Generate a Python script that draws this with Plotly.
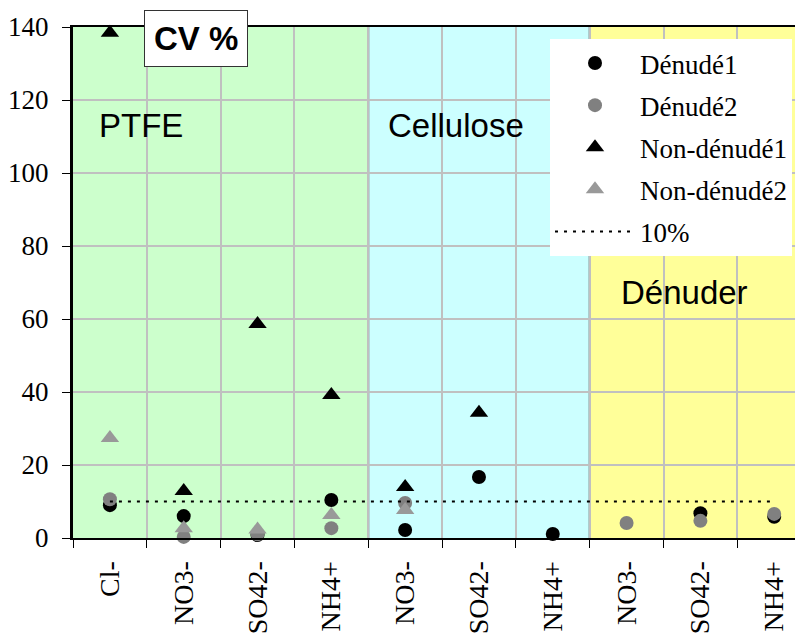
import plotly.graph_objects as go

categories = ["Cl-", "NO3-", "SO42-", "NH4+", "NO3-", "SO42-", "NH4+", "NO3-", "SO42-", "NH4+"]
denude1 = [9.0, 6.0, 0.8, 10.4, 2.2, 16.7, 1.1, None, 6.8, 5.8]
denude2 = [10.6, 0.3, 1.0, 2.7, 9.6, None, None, 4.1, 4.7, 6.6]
non_denude1 = [138.4, 12.9, 58.6, 39.2, 14.0, 34.3, None, None, None, None]
non_denude2 = [27.4, 2.7, 2.3, 6.3, 7.7, None, None, None, None, None]
threshold = [10, 10]
threshold_x = [0, 9]
groups = [("PTFE", -0.5, 3.5, "#CCFFCC"), ("Cellulose", 3.5, 6.5, "#CCFFFF"), ("Dénuder", 6.5, 9.5, "#FFFF99")]
y_ticks = [0, 20, 40, 60, 80, 100, 120, 140]

# page offset of the figure (default body margin)
OFF = 8
PL, PT, PW, PH = 73, 27, 730, 511  # plot area in page pixels

xs = list(range(len(categories)))
fig = go.Figure()

def add(name, y, color, symbol, size, grp):
    fig.add_trace(go.Scatter(x=xs, y=y, mode="markers", name=name, legendgroup=grp,
                             marker=dict(color=color, symbol=symbol, size=size, line=dict(width=0)),
                             cliponaxis=False))

add("Dénudé1", denude1, "black", "circle", 14, "a")
add("Dénudé2", denude2, "#808080", "circle", 14, "b")
add("Non-dénudé1", non_denude1, "black", "triangle-up", 16, "c")
add("Non-dénudé2", non_denude2, "#999999", "triangle-up", 16, "d")
fig.add_trace(go.Scatter(x=threshold_x, y=threshold, mode="lines", name="10%", legendgroup="e",
                         line=dict(color="black", width=2, dash="3px,6px")))

for name, x0, x1, col in groups:
    fig.add_shape(type="rect", xref="x", yref="paper", x0=x0, x1=x1, y0=0, y1=1,
                  fillcolor=col, line=dict(width=0), layer="below")
for xb in [3.5, 6.5]:
    fig.add_shape(type="line", xref="x", yref="paper", x0=xb, x1=xb, y0=0, y1=1,
                  line=dict(color="#666666", width=2), layer="between")

def px(xp):
    return (xp - PL) / PW

def py(yp):
    return (PT + PH - yp) / PH

lab_font = dict(family="Liberation Sans, Arial", size=33, color="black")
fig.add_annotation(x=px(97), y=py(125), xref="paper", yref="paper", text="PTFE", showarrow=False,
                   xanchor="left", yanchor="middle", font=lab_font)
fig.add_annotation(x=px(386), y=py(125), xref="paper", yref="paper", text="Cellulose", showarrow=False,
                   xanchor="left", yanchor="middle", font=lab_font)
fig.add_annotation(x=px(619), y=py(292), xref="paper", yref="paper", text="Dénuder", showarrow=False,
                   xanchor="left", yanchor="middle", font=lab_font)
fig.add_annotation(x=px(195.5), y=py(38.5), xref="paper", yref="paper", text="<b>CV %</b>", showarrow=False,
                   xanchor="center", yanchor="middle",
                   font=dict(family="Liberation Sans, Arial", size=33, color="black"),
                   bgcolor="white", bordercolor="#333333", borderwidth=1, borderpad=9)

fig.update_layout(
    width=803 - OFF, height=634 - OFF,
    margin=dict(l=PL - OFF, r=0, t=PT - OFF, b=634 - (PT + PH)),
    paper_bgcolor="white", plot_bgcolor="white",
    showlegend=True,
    legend=dict(x=px(550), y=py(39), xanchor="left", yanchor="top",
                bgcolor="white", borderwidth=0, tracegroupgap=4, itemwidth=80,
                font=dict(family="Liberation Serif, Times New Roman", size=27, color="black")),
    font=dict(family="Liberation Serif, Times New Roman", color="black"),
)
fig.update_xaxes(range=[-0.5, 9.39], tickmode="array", tickvals=xs, ticktext=categories,
                 tickangle=-90, tickfont=dict(size=28), ticks="", showgrid=False, zeroline=False,
                 showline=True, linecolor="black", linewidth=2, mirror=True,
                 ticklabelstandoff=10,
                 minor=dict(tickmode="array", tickvals=[i - 0.5 for i in range(11)], ticks="outside",
                            ticklen=8, tickcolor="black", showgrid=True, gridcolor="#C0C0C0", gridwidth=1.5))
fig.update_yaxes(range=[0, 140], tickvals=y_ticks, ticks="outside", ticklen=8, tickcolor="black",
                 tickfont=dict(size=27), showgrid=True, gridcolor="#C0C0C0", gridwidth=1.5,
                 zeroline=False, showline=True, linecolor="black", linewidth=3, ticklabelstandoff=8)

fig.write_html("out.html")
